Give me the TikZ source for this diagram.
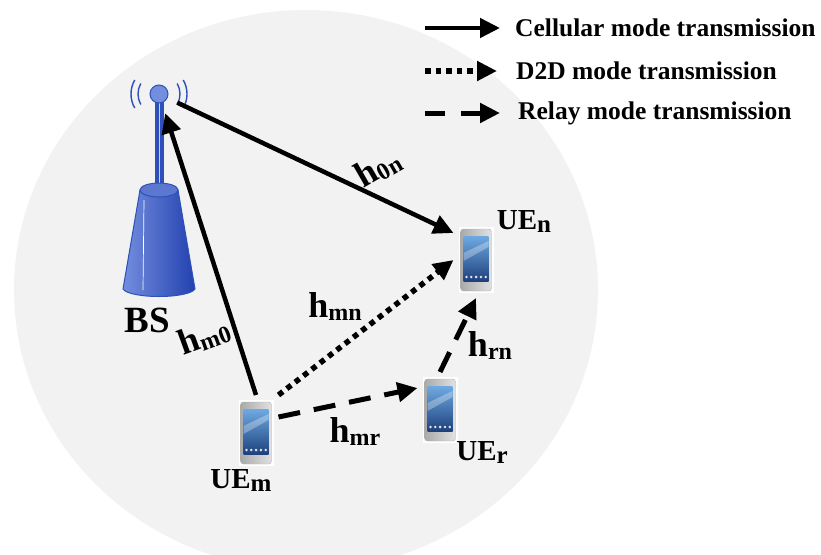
\documentclass[tikz,border=0pt]{standalone}
\usepackage{fontspec}
\setmainfont{Liberation Serif}
\usetikzlibrary{arrows.meta,positioning}

\definecolor{cellbg}{RGB}{242,242,242}
\definecolor{towerlight}{RGB}{115,142,222}
\definecolor{towerdark}{RGB}{35,65,175}
\definecolor{towerline}{RGB}{45,80,185}
\definecolor{screentop}{RGB}{110,170,225}
\definecolor{screenbot}{RGB}{30,65,125}

% channel gain and user labels
\newcommand{\hlab}[1]{{\fontsize{36}{36}\selectfont h}\raisebox{-3pt}{\fontsize{24}{24}\selectfont #1}}
\newcommand{\uelab}[1]{UE\raisebox{-3pt}{\fontsize{25}{25}\selectfont #1}}

\tikzset{
  phone/.style={rectangle, fill=white, minimum width=35pt, minimum height=66pt, inner sep=0pt, outer sep=5pt,
    path picture={
      \fill[left color=gray!70, right color=gray!20, draw=gray!60, rounded corners=3pt]
        ([shift={(2pt,-2pt)}]path picture bounding box.north west) rectangle ([shift={(-2pt,2pt)}]path picture bounding box.south east);
      \fill[top color=screentop, bottom color=screenbot]
        ([shift={(5pt,-9pt)}]path picture bounding box.north west) rectangle ([shift={(-5pt,12pt)}]path picture bounding box.south east);
      \fill[white, opacity=.3]
        ([shift={(5pt,-26pt)}]path picture bounding box.north west) -- ([shift={(-5pt,-14pt)}]path picture bounding box.north east)
        -- ([shift={(-5pt,-20pt)}]path picture bounding box.north east) -- ([shift={(5pt,-34pt)}]path picture bounding box.north west) -- cycle;
      \foreach \k in {0,...,4}
        \fill[white!80!gray] ([shift={({(8+4.8*\k)*1pt},16pt)}]path picture bounding box.south west) circle (1.4pt);
    }},
  cellular/.style={line width=4.5pt, -{Triangle[length=20pt,width=19pt]}},
  d2d/.style={line width=5.5pt, dash pattern=on 5.5pt off 5pt, -{Triangle[length=20pt,width=19pt]}},
  relay/.style={line width=5pt, dash pattern=on 22pt off 14pt, -{Triangle[length=20pt,width=19pt]}},
  legend/.style={inner sep=0pt, anchor=west, font=\fontsize{25.5}{30}\selectfont\bfseries},
  ue/.style={font=\fontsize{29}{30}\selectfont\bfseries, inner sep=0pt},
  gain/.style={inner sep=0pt}
}

\begin{document}
\begin{tikzpicture}[x=1pt, y=-1pt, font=\bfseries]
  \useasboundingbox (0,0) rectangle (821,554);
  \clip (0,0) rectangle (821,554);

  % cell area
  \fill[cellbg] (306,290) ellipse (292pt and 280pt);

  % base station
  \node[circle, minimum size=40pt, inner sep=0pt] (bs) at (159,94) {};
  \fill[towerline] (155,100) rectangle (164,192);
  \draw[white!60!towerlight, line width=1.5pt] (159.5,102) -- (159.5,190);
  \shade[left color=towerlight, right color=towerdark, draw=towerline, line width=1pt]
    (140,190) -- (123,289) .. controls (130,299) and (188,299) .. (195,289) -- (178,190) -- cycle;
  \draw[white, line width=.7pt] (144,200) -- (143,290);
  \fill[towerlight!70!towerdark, draw=towerline, line width=1pt] (159,190) ellipse (19pt and 7pt);
  \fill[towerlight, draw=towerline, line width=1pt] (bs.center) circle (9pt);
  \foreach \r in {21,28} {
    \draw[towerline, line width=1.4pt] (bs.center) ++(150:\r pt) arc (150:210:\r pt);
    \draw[towerline, line width=1.4pt] (bs.center) ++(-30:\r pt) arc (-30:30:\r pt);
  }
  \node[ue, font=\fontsize{37}{37}\selectfont\bfseries] (bslab) at (147,320) {BS};

  % user equipments
  \node[phone] (un) at (476,260) {};
  \node[phone] (um) at (256,433) {};
  \node[phone] (ur) at (440,410) {};
  \node[ue] (unlab) at (524,222) {\uelab{n}};
  \node[ue] (umlab) at (241,480) {\uelab{m}};
  \node[ue] (urlab) at (482,452) {\uelab{r}};

  % links
  \draw[cellular] (um.north) -- (bs);
  \draw[cellular] (bs) -- ([yshift=27pt]un.west);
  \draw[d2d] (um.north east) -- (un.west);
  \draw[relay] ([yshift=16pt]um.east) -- ([yshift=22pt]ur.west);
  \draw[relay] (ur.north) -- (un.south);

  % channel gains
  \node[gain, rotate=30] (h0n) at (378,168) {\hlab{0n}};
  \node[gain, rotate=20] (hm0) at (204,336) {\hlab{m0}};
  \node[gain] (hmn) at (335,307) {\hlab{mn}};
  \node[gain] (hrn) at (490,346) {\hlab{rn}};
  \node[gain] (hmr) at (355,432) {\hlab{mr}};

  % legend
  \node[legend] (lcell) at (515,28) {Cellular mode transmission};
  \node[legend] (ld2d) at (516,71) {D2D mode transmission};
  \node[legend] (lrelay) at (518,113) {Relay mode transmission};
  \draw[cellular] ([xshift=-90]lcell.west) -- ([xshift=-15]lcell.west);
  \draw[d2d] ([xshift=-91]ld2d.west) -- ([xshift=-19]ld2d.west);
  \draw[relay, dash pattern=on 20pt off 16pt] ([xshift=-93]lrelay.west) -- ([xshift=-18]lrelay.west);
\end{tikzpicture}
\end{document}
